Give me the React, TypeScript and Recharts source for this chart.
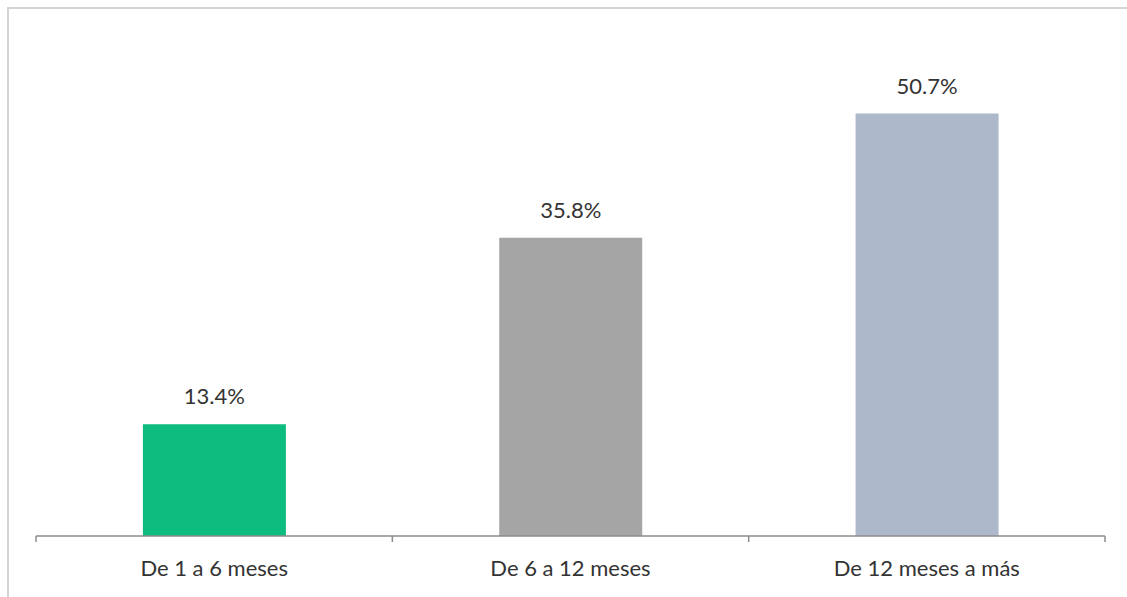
import { BarChart, Bar, XAxis, YAxis, Cell, LabelList } from 'recharts';

const categories = ['De 1 a 6 meses', 'De 6 a 12 meses', 'De 12 meses a más'];
const shares = [13.4, 35.8, 50.7];
const colors = ['#0DBD7F', '#A5A5A5', '#ADB9CA'];

const data = categories.map((name, i) => ({ name, value: shares[i] }));

const font = 'Lato, "Noto Sans", sans-serif';
const LABEL_GAP = 24;
const axisColor = '#8C8C8C';

// category label plus the boundary tick marks between bands (Excel style)
function CategoryTick(props: any) {
  const { x, y, payload, index, visibleTicksCount } = props;
  const half = payload.offset ?? 0;
  const axisY = y - LABEL_GAP;
  const isLast = index === visibleTicksCount - 1;
  return (
    <g>
      <line x1={x - half} x2={x - half} y1={axisY} y2={axisY + 6} stroke={axisColor} strokeWidth={1.5} />
      {isLast && (
        <line x1={x + half} x2={x + half} y1={axisY} y2={axisY + 6} stroke={axisColor} strokeWidth={1.5} />
      )}
      <text x={x} y={y} dy="0.71em" textAnchor="middle" fill="#333333" fontSize={22} fontFamily={font}>
        {payload.value}
      </text>
    </g>
  );
}

export default function App() {
  return (
    <div style={{ position: 'absolute', left: 0, top: 0, width: 1127, height: 597, background: '#fff', overflow: 'hidden' }}>
      <div
        style={{
          position: 'absolute',
          left: 7,
          top: 7,
          width: 1140,
          height: 620,
          border: '2px solid #D4D4D4',
          boxSizing: 'border-box',
        }}
      />
      <BarChart
        width={1127}
        height={597}
        data={data}
        margin={{ top: 36, right: 22, bottom: 0, left: 36 }}
        barCategoryGap="30%"
        style={{ position: 'absolute', left: 0, top: 0 }}
      >
        <XAxis
          dataKey="name"
          height={61}
          interval={0}
          tickLine={false}
          tickSize={0}
          tickMargin={LABEL_GAP}
          axisLine={{ stroke: axisColor, strokeWidth: 1.5 }}
          tick={<CategoryTick />}
        />
        <YAxis hide domain={[0, 60]} />
        <Bar dataKey="value" isAnimationActive={false}>
          {data.map((d, i) => (
            <Cell key={d.name} fill={colors[i]} />
          ))}
          <LabelList
            dataKey="value"
            position="top"
            offset={20}
            formatter={(v: number) => `${v.toFixed(1)}%`}
            style={{ fill: '#333333', fontSize: 22, fontFamily: font }}
          />
        </Bar>
      </BarChart>
    </div>
  );
}
